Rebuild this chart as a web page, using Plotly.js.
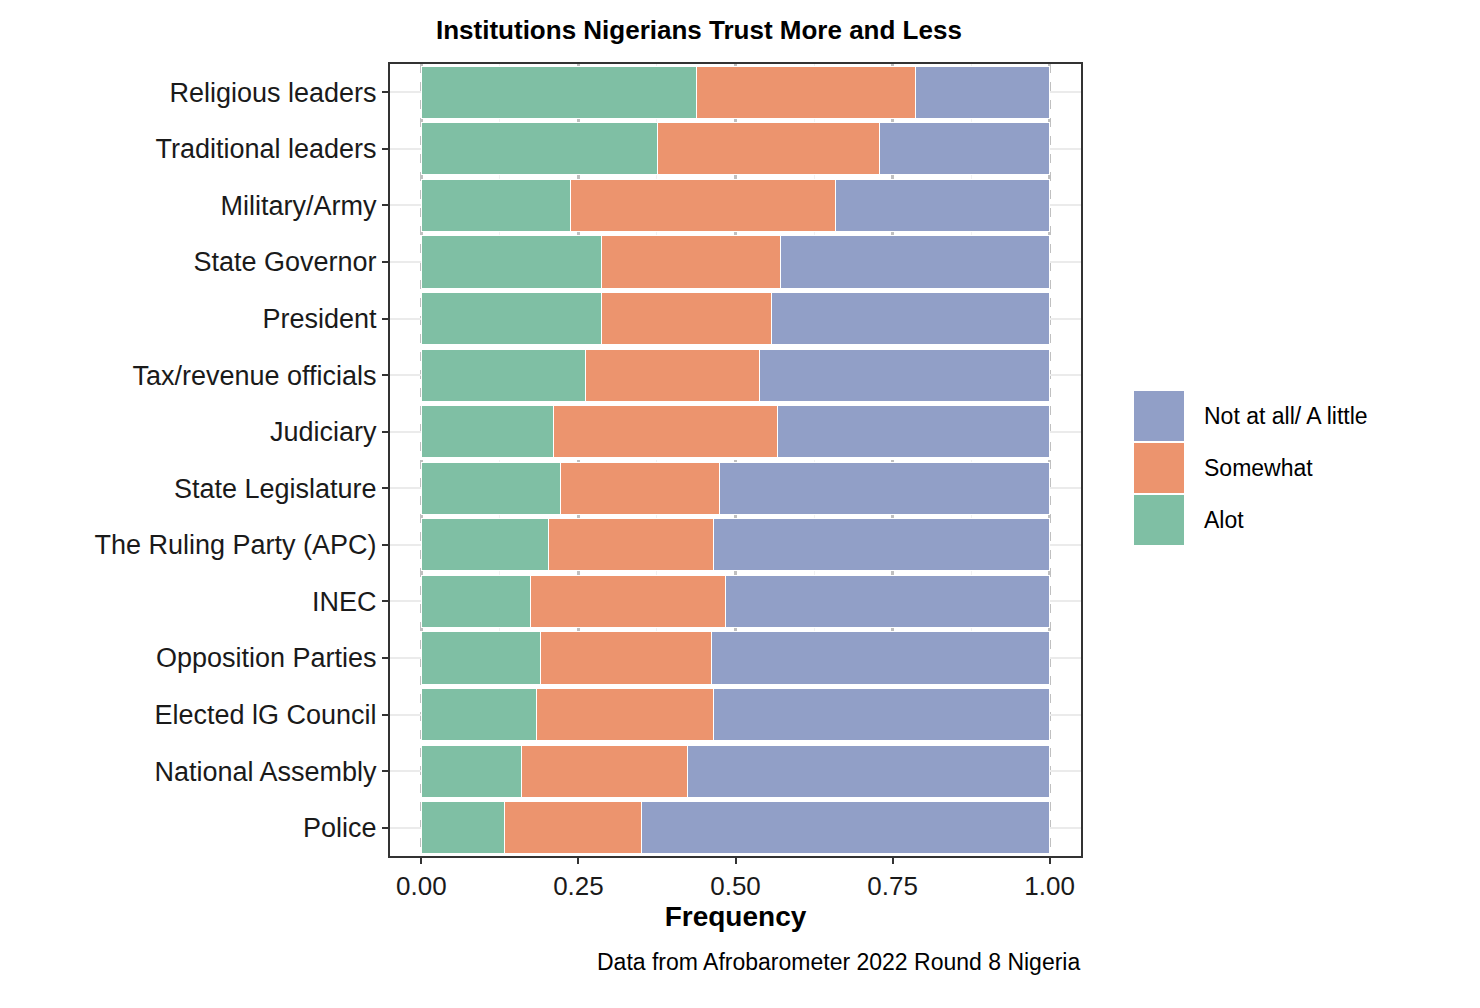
<!DOCTYPE html>
<html>
<head>
<meta charset="utf-8">
<script src="https://cdn.plot.ly/plotly-3.0.1.min.js"></script>
<style>body{margin:0;background:#fff}</style>
</head>
<body>
<div id="chart" style="width:1480px;height:1008px"></div>
<script>
// Categories top to bottom
const institutions = ['Religious leaders', 'Traditional leaders', 'Military/Army', 'State Governor',
  'President', 'Tax/revenue officials', 'Judiciary', 'State Legislature', 'The Ruling Party (APC)',
  'INEC', 'Opposition Parties', 'Elected lG Council', 'National Assembly', 'Police'];
const alot =     [0.438, 0.376, 0.237, 0.287, 0.287, 0.262, 0.211, 0.221, 0.202, 0.173, 0.189, 0.183, 0.160, 0.132];
const somewhat = [0.349, 0.353, 0.422, 0.284, 0.270, 0.276, 0.356, 0.254, 0.263, 0.311, 0.273, 0.282, 0.264, 0.219];
const notAtAll = [0.213, 0.271, 0.341, 0.429, 0.443, 0.462, 0.433, 0.525, 0.535, 0.516, 0.538, 0.535, 0.576, 0.649];
const legendNames = ['Not at all/ A little', 'Somewhat', 'Alot'];
const colors = ['#919fc7', '#ec946e', '#7fbfa4'];

const cats = institutions.slice().reverse();
const rev = a => a.slice().reverse();

function bar(name, vals, color) {
  return {
    type: 'bar', orientation: 'h', name: name,
    y: cats, x: rev(vals),
    marker: {color: color, line: {color: '#fff', width: 1}},
    hoverinfo: 'x+y+name', showlegend: false
  };
}

const traces = [
  bar('Alot', alot, colors[2]),
  bar('Somewhat', somewhat, colors[1]),
  bar('Not at all/ A little', notAtAll, colors[0])
];

// Hand-drawn legend with large ggplot-style keys
const W = 691, H = 792;
const px = x => (x - 390) / W, py = y => (856 - y) / H;
const shapes = [], annotations = [];
legendNames.forEach((n, i) => {
  const top = 391 + i * 52;
  shapes.push({type: 'rect', xref: 'paper', yref: 'paper', x0: px(1134), x1: px(1184),
    y0: py(top + 50), y1: py(top), fillcolor: colors[i], line: {width: 0}});
  annotations.push({text: n, xref: 'paper', yref: 'paper', x: px(1202), y: py(top + 25),
    xanchor: 'left', yanchor: 'middle', showarrow: false, font: {size: 23, color: '#000'}});
});
annotations.push({
  text: 'Data from Afrobarometer 2022 Round 8 Nigeria', xref: 'paper', yref: 'paper',
  x: px(1082), y: py(962), xanchor: 'right', yanchor: 'middle', showarrow: false, font: {size: 23, color: '#000'}
});
annotations.push({
  text: '<b>Institutions Nigerians Trust More and Less</b>', xref: 'paper', yref: 'paper',
  x: px(699), y: py(30), xanchor: 'center', yanchor: 'middle', showarrow: false, font: {size: 26, color: '#000'}
});

const layout = {
  barmode: 'stack', bargap: 0.08,
  width: 1480, height: 1008,
  margin: {l: 390, r: 399, t: 64, b: 152},
  paper_bgcolor: '#fff', plot_bgcolor: '#fff',
  font: {family: 'Liberation Sans, Arial, sans-serif', color: '#1a1a1a'},
  showlegend: false,
  xaxis: {
    range: [-0.05, 1.05], tickvals: [0, 0.25, 0.5, 0.75, 1], ticktext: ['0.00', '0.25', '0.50', '0.75', '1.00'],
    tickfont: {size: 26, color: '#1a1a1a'}, ticks: 'outside', ticklen: 6, tickcolor: '#333', tickwidth: 2,
    gridcolor: '#c0c0c0', griddash: 'dash', gridwidth: 3,
    minor: {tickvals: [0.125, 0.375, 0.625, 0.875], showgrid: true, gridcolor: '#f2f2f2', gridwidth: 1},
    showline: true, linecolor: '#333', linewidth: 2, mirror: true, zeroline: false,
    title: {text: '<b>Frequency</b>', font: {size: 28, color: '#000'}, standoff: 4}
  },
  yaxis: {
    tickfont: {size: 27, color: '#1a1a1a'}, ticks: 'outside', ticklen: 6, tickcolor: '#333', tickwidth: 2,
    gridcolor: '#ebebeb', gridwidth: 2, automargin: false,
    showline: true, linecolor: '#333', linewidth: 2, mirror: true, range: [-0.5, 13.5]
  },
  shapes: shapes,
  annotations: annotations
};

Plotly.newPlot('chart', traces, layout, {displayModeBar: false});
</script>
</body>
</html>
